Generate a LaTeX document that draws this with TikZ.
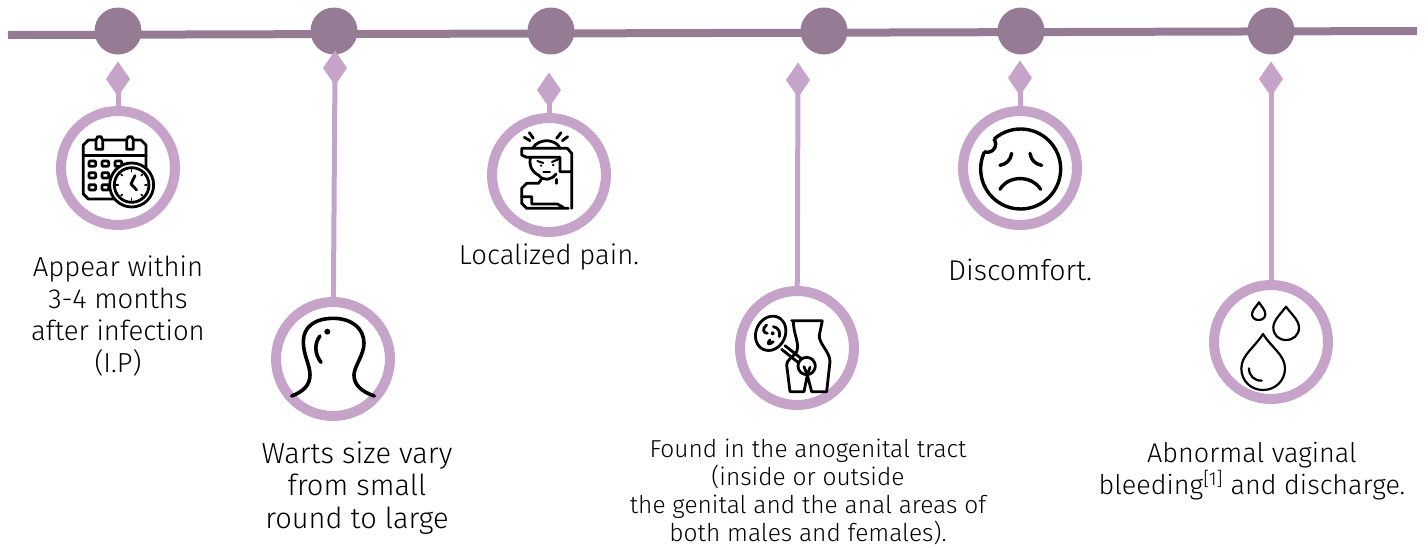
\documentclass[tikz,border=0pt]{standalone}
\usepackage{fontspec}
\setmainfont{Fira Sans}[UprightFont=* Light]
\definecolor{linemauve}{HTML}{957C94}
\definecolor{ringmauve}{HTML}{C6A3C8}
\tikzset{
    dotnode/.style={circle, fill=linemauve, minimum size=47pt, inner sep=0pt},
    ringnode/.style={circle, draw=ringmauve, line width=10pt, fill=white, minimum size=114pt, inner sep=0pt},
    stemline/.style={draw=ringmauve, line width=5pt},
    labelnode/.style={align=center, font=\fontsize{27.5}{32}\selectfont, inner sep=0pt},
    iconline/.style={line width=2.8pt, line cap=round, line join=round},
}
\begin{document}
\begin{tikzpicture}[x=1pt, y=-1pt]
    \useasboundingbox (0,0) rectangle (1428,547);

    \coordinate (lineleft) at (8,35);
    \coordinate (lineright) at (1417,31);
    \draw[linemauve, line width=8pt] (lineleft) -- (lineright);

    \node[dotnode] (dotcal) at (118,31) {};
    \node[dotnode] (dotwart) at (334,31) {};
    \node[dotnode] (dotpain) at (551,31) {};
    \node[dotnode] (dotgenital) at (824,31) {};
    \node[dotnode] (dotsad) at (1021,31) {};
    \node[dotnode] (dotdrop) at (1271,31) {};

    \node[ringnode] (ringcal) at (118,168) {};
    \node[ringnode] (ringwart) at (333,359) {};
    \node[ringnode] (ringpain) at (549,175) {};
    \node[ringnode] (ringgenital) at (797,348) {};
    \node[ringnode] (ringsad) at (1020,168) {};
    \node[ringnode] (ringdrop) at (1271,342) {};

    \coordinate (gemcal) at (118,79);
    \coordinate (gemwart) at (335,68);
    \coordinate (gempain) at (549,90);
    \coordinate (gemgenital) at (798,80);
    \coordinate (gemsad) at (1020,78);
    \coordinate (gemdrop) at (1271,79);

    \foreach \gem/\ring in {gemcal/ringcal, gemwart/ringwart, gempain/ringpain, gemgenital/ringgenital, gemsad/ringsad, gemdrop/ringdrop} {
        \draw[stemline] (\gem) -- (\ring);
        \fill[ringmauve] (\gem) ++(-12,0) -- ++(12,-17.5) -- ++(12,17.5) -- ++(-12,17.5) -- cycle;
    }

    \node[labelnode] (textcal) at (118,316) {Appear within\\3-4 months\\after infection\\(I.P)};
    \node[labelnode, font=\fontsize{29}{32.5}\selectfont] (textwart) at (357,488) {Warts size vary\\from small\\round to large};
    \node[labelnode] (textpain) at (549,257) {Localized pain.};
    \node[labelnode, font=\fontsize{24.5}{28}\selectfont] (textgenital) at (808,492) {Found in the anogenital tract\\(inside or outside\\the genital and the anal areas of\\both males and females).};
    \node[labelnode, font=\fontsize{28.5}{32}\selectfont] (textsad) at (1020,270) {Discomfort.};
    \node[labelnode, font=\fontsize{27}{32}\selectfont] (textdrop) at (1252,471) {Abnormal vaginal\\bleeding\textsuperscript{[1]} and discharge.};

    % calendar
    \begin{scope}[shift={(40,0)}, x=.3333pt, y=-.3333pt, iconline]
        \draw[fill=white] (130,467) -- (130,435) -- (145,420) -- (303,420) -- (318,435) -- (318,582) -- (303,597) -- (145,597) -- (130,582) -- cycle;
        \draw (130,467) -- (318,467);
        \foreach \cx in {178,270} {
            \draw[fill=white] (\cx-10,420) -- (\cx-10,448) -- (\cx+10,448) -- (\cx+10,420) -- (\cx+5,410) -- (\cx-5,410) -- cycle;
        }
        \foreach \cy in {491,526,562} {
            \foreach \cx in {157,196,235} {
                \draw[rounded corners=1pt] (\cx-10,\cy-8) rectangle (\cx+10,\cy+8);
            }
        }
        \draw[fill=white] (275,555) circle (66);
        \draw (275,555) circle (52);
        \draw (285,527) -- (273,552) -- (290,570);
        \foreach \tick in {0,45,...,315} {
            \draw[line width=1.6pt] (275,555) ++(\tick:46) -- ++(\tick:-6);
        }
    \end{scope}

    % neck
    \begin{scope}[shift={(265,290)}, x=.3333pt, y=-.3333pt, iconline]
        \draw[line width=3.6pt] (80,318) .. controls (115,305) and (135,285) .. (135,255) .. controls (135,225) and (115,195) .. (115,155) .. controls (115,110) and (150,85) .. (205,85) .. controls (260,85) and (297,115) .. (297,160) .. controls (297,195) and (267,230) .. (267,255) .. controls (267,285) and (290,305) .. (328,318);
        \draw[line width=3.6pt] (165,138) .. controls (148,160) and (148,190) .. (168,217);
        \fill (187,125) circle (9);
    \end{scope}

    % man in pain
    \begin{scope}[shift={(480,100)}, x=.3333pt, y=-.3333pt, iconline]
        \draw (133,112) -- (150,122) (148,98) -- (160,115) (230,115) -- (243,98) (247,122) -- (263,110);
        \draw (158,145) .. controls (165,128) and (190,122) .. (200,122) .. controls (215,122) and (235,130) .. (240,145);
        \draw (275,325) -- (275,160) -- (262,145) -- (125,145) -- (125,165) -- (140,172) -- (240,172) -- (240,215) -- (272,215);
        \draw (152,172) .. controls (145,195) and (155,215) .. (175,225) .. controls (190,245) and (215,240) .. (228,222);
        \draw[line width=2pt] (172,183) -- (190,189) (235,178) -- (216,186);
        \draw[line width=2pt] (190,217) -- (210,217);
        \fill (183,197) circle (4) (220,195) circle (4);
        \draw (183,240) -- (175,250) -- (140,250) -- (125,265) -- (125,310) -- (140,325) -- (265,325);
        \draw (125,290) -- (155,290) -- (155,312) -- (232,312) -- (250,322);
        \draw (230,238) -- (230,250);
    \end{scope}

    % anatomy with lens
    \begin{scope}[shift={(730,280)}, x=.3333pt, y=-.3333pt, iconline]
        \draw (122,160) ellipse [x radius=44, y radius=53, rotate=-25];
        \fill (128,160) circle (6);
        \draw (110,135) .. controls (95,145) and (100,160) .. (112,160);
        \draw (120,180) .. controls (108,195) and (118,195) .. (130,185);
        \draw (130,140) .. controls (150,145) and (150,160) .. (148,170);
        \draw (165,197) -- (217,238) (155,208) -- (210,252);
        \draw (185,122) -- (275,122) (190,122) .. controls (190,165) and (210,190) .. (200,215) .. controls (185,235) and (170,240) .. (170,255) -- (180,335) -- (222,335) -- (232,285) -- (245,335) -- (290,335) -- (300,245) .. controls (300,215) and (265,190) .. (268,165) -- (277,122);
        \draw[fill=white] (230,258) circle (26);
        \draw (222,260) -- (232,285) -- (240,262);
    \end{scope}

    % sad face
    \begin{scope}[shift={(950,100)}, x=.3333pt, y=-.3333pt, iconline, line width=3.4pt]
        \draw (212,207) circle (120);
        \fill[white] (112,132) circle (25);
        \begin{scope}
            \clip (212,207) circle (122);
            \draw (112,132) circle (25);
        \end{scope}
        \draw (185,160) .. controls (182,180) and (170,192) .. (150,196);
        \draw (240,160) .. controls (243,180) and (255,192) .. (275,196);
        \draw (150,268) .. controls (175,225) and (245,225) .. (272,268);
    \end{scope}

    % drops
    \begin{scope}[shift={(1200,275)}, x=.3333pt, y=-.3333pt, iconline, line width=2.2pt]
        \draw (177,82) .. controls (185,95) and (196,105) .. (196,118) .. controls (196,128) and (187,135) .. (176,135) .. controls (165,135) and (156,128) .. (156,118) .. controls (156,105) and (169,95) .. (177,82) -- cycle;
        \draw (258,95) .. controls (272,115) and (297,135) .. (297,158) .. controls (297,180) and (280,195) .. (258,195) .. controls (236,195) and (220,180) .. (220,158) .. controls (220,135) and (244,115) .. (258,95) -- cycle;
        \draw (189,177) .. controls (212,215) and (255,240) .. (255,280) .. controls (255,318) and (225,345) .. (189,345) .. controls (153,345) and (124,318) .. (124,280) .. controls (124,240) and (166,215) .. (189,177) -- cycle;
        \draw (147,280) .. controls (147,302) and (162,317) .. (185,317);
    \end{scope}
\end{tikzpicture}
\end{document}
